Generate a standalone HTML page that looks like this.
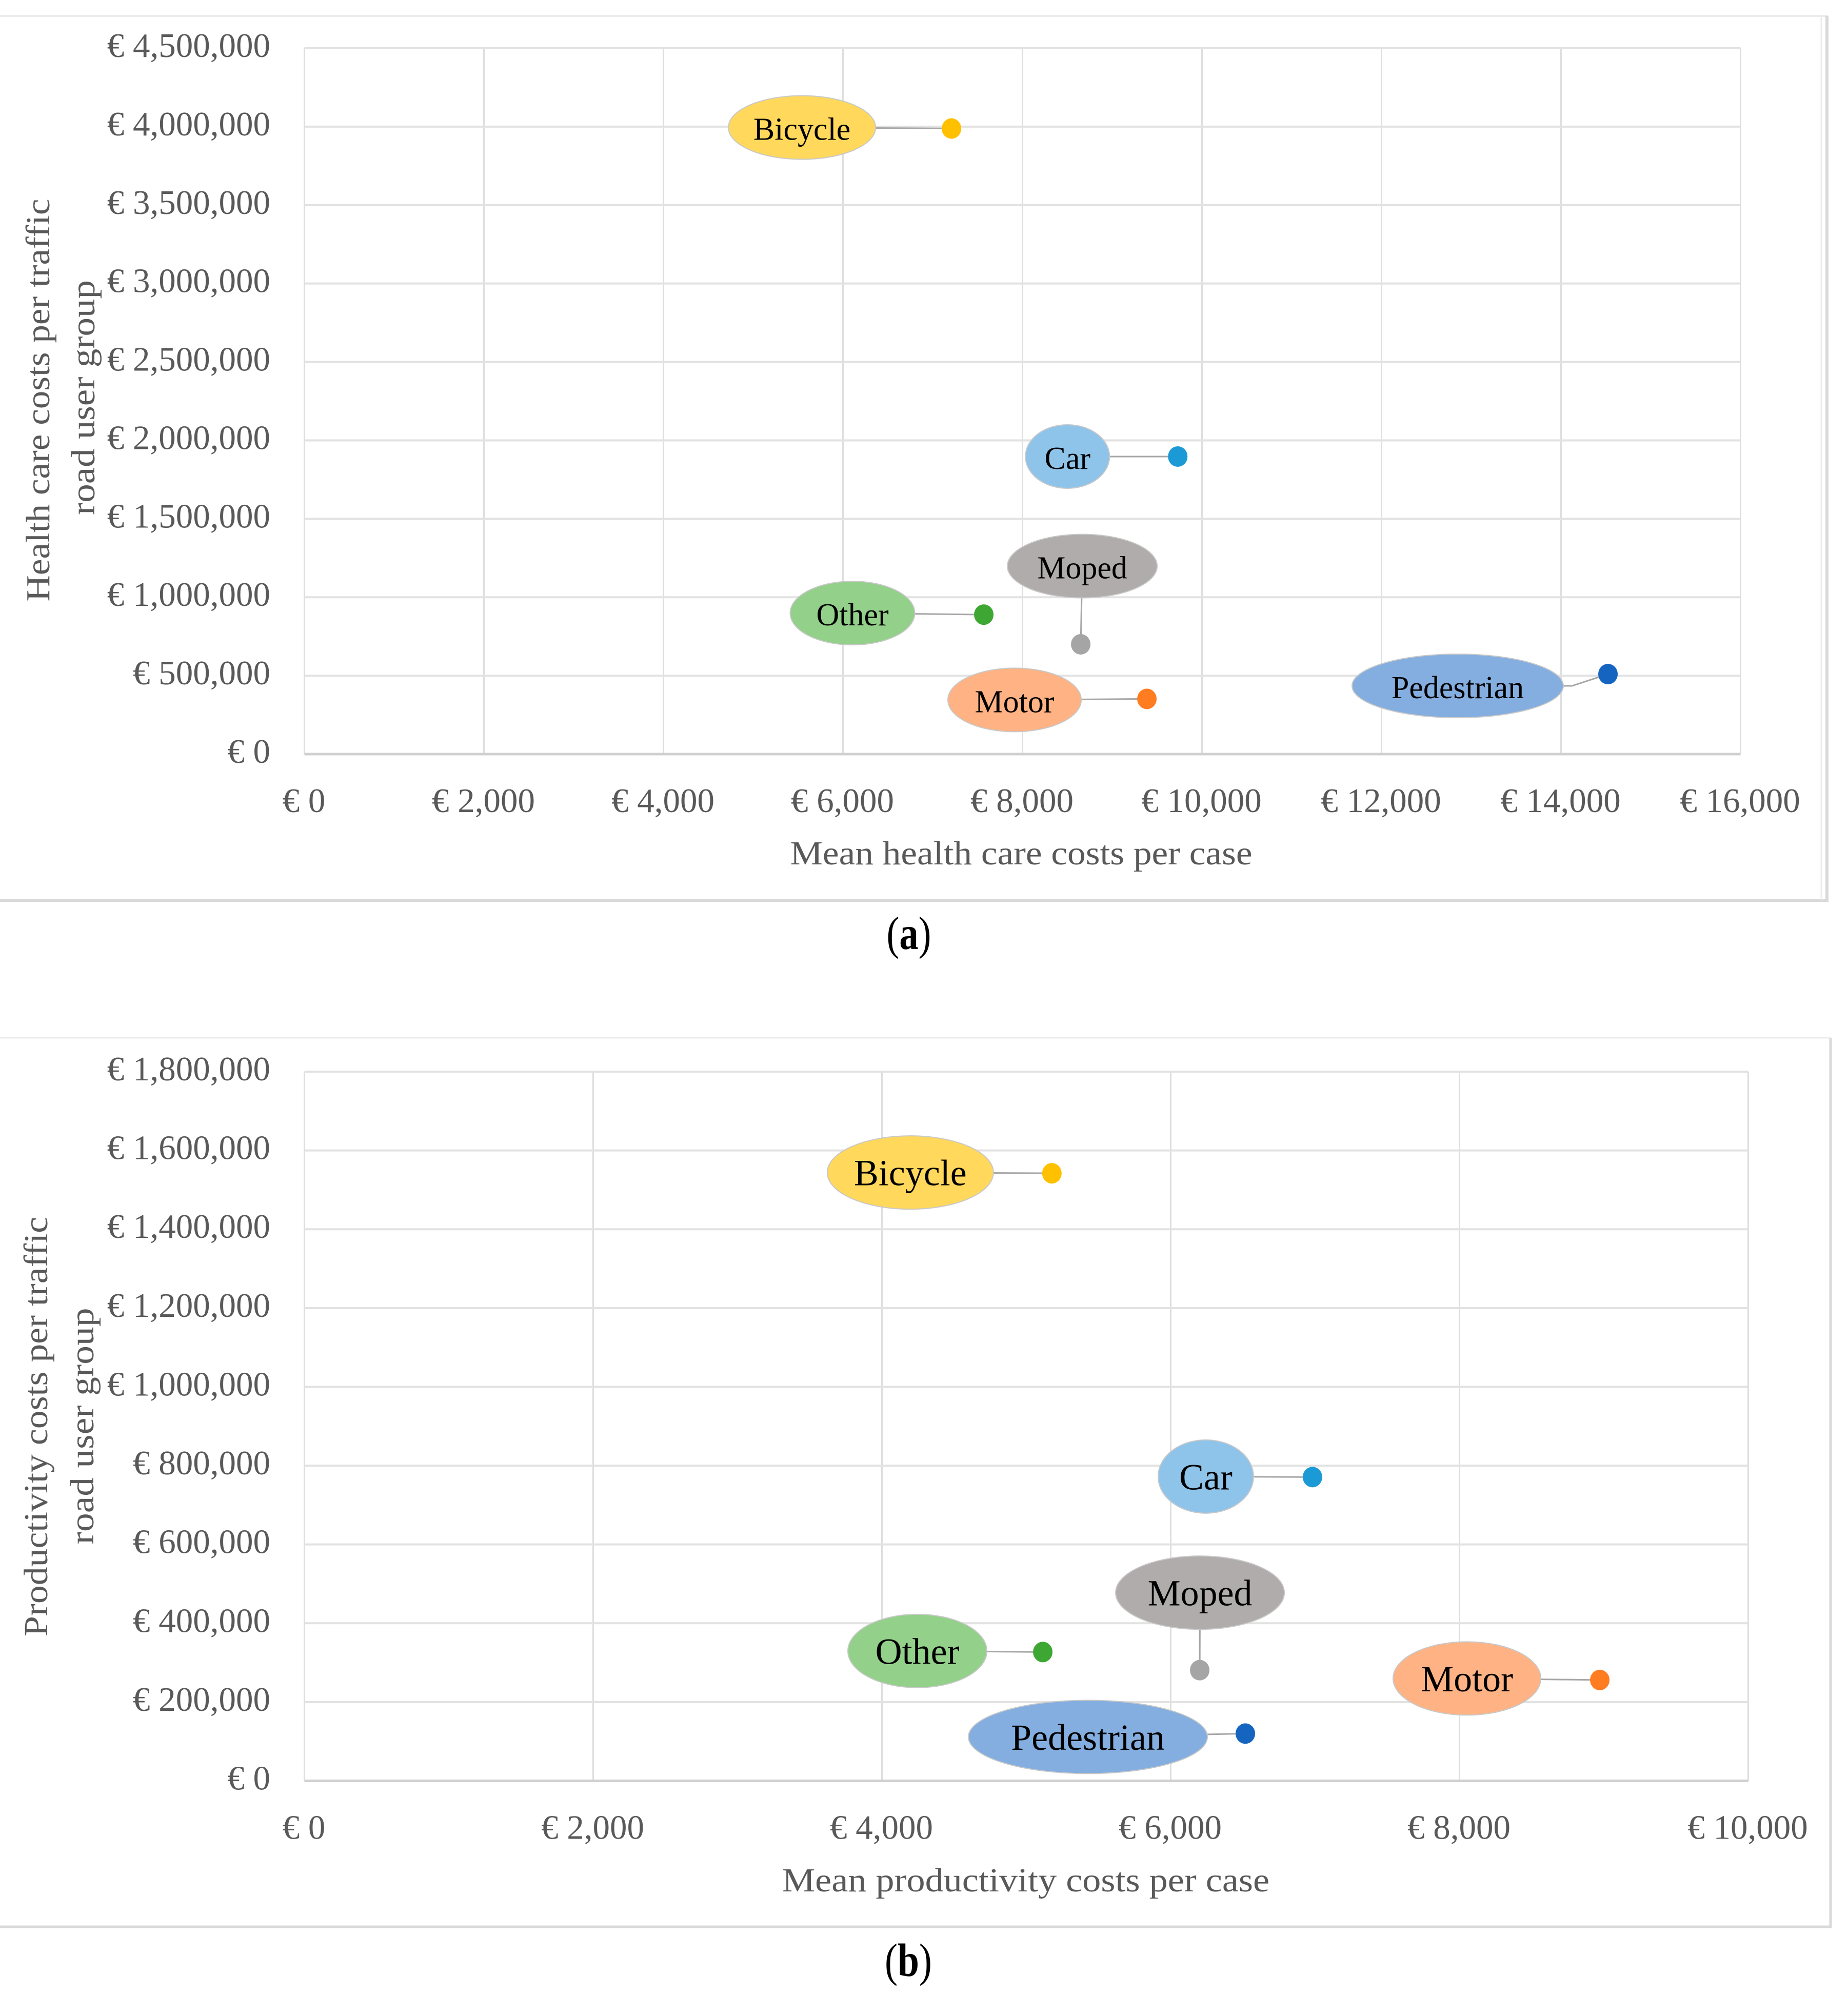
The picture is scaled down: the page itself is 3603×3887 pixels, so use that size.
<!DOCTYPE html>
<html lang="en">
<head>
<meta charset="utf-8">
<title>Costs per traffic road user group</title>
<style>
html,body{margin:0;padding:0;background:#fff;}
svg{display:block;}
text{font-family:"Liberation Serif","DejaVu Serif",serif;}
.tick{font-size:67px;fill:#595959;}
.title{font-size:66px;fill:#595959;}
.cap{font-size:91px;fill:#000;}
</style>
</head>
<body>
<svg id="figure" xmlns="http://www.w3.org/2000/svg" width="3603" height="3887" viewBox="0 0 3603 3887">
  <rect width="3603" height="3887" fill="#ffffff"/>

  <g id="frame-a" fill="none">
    <line x1="0" y1="31" x2="3564" y2="31" stroke="#ececec" stroke-width="4"/>
    <line x1="0" y1="1755" x2="3565" y2="1755" stroke="#d9d9d9" stroke-width="6"/>
    <line x1="3562" y1="31" x2="3562" y2="1755" stroke="#d9d9d9" stroke-width="6"/>
    <line x1="3551" y1="31" x2="3551" y2="1755" stroke="#ececec" stroke-width="3"/>
  </g>
  <g id="frame-b" fill="none">
    <line x1="0" y1="2023" x2="3570" y2="2023" stroke="#ececec" stroke-width="3"/>
    <line x1="0" y1="3756" x2="3571" y2="3756" stroke="#d9d9d9" stroke-width="5"/>
    <line x1="3569" y1="2023" x2="3569" y2="3756" stroke="#d9d9d9" stroke-width="5"/>
  </g>

  <g id="chart-a"></g>
  <g id="chart-b"></g>

  <text class="title" transform="translate(96,780) rotate(-90)" text-anchor="middle" textLength="785" lengthAdjust="spacingAndGlyphs">Health care costs per traffic</text>
  <text class="title" transform="translate(184,775) rotate(-90)" text-anchor="middle" textLength="458" lengthAdjust="spacingAndGlyphs">road user group</text>
  <text class="title" x="1991" y="1685" text-anchor="middle" textLength="901" lengthAdjust="spacingAndGlyphs">Mean health care costs per case</text>
  <text class="cap" x="1772" y="1850" text-anchor="middle" textLength="87" lengthAdjust="spacingAndGlyphs">(<tspan font-weight="bold">a</tspan>)</text>

  <text class="title" transform="translate(92,2781) rotate(-90)" text-anchor="middle" textLength="818" lengthAdjust="spacingAndGlyphs">Productivity costs per traffic</text>
  <text class="title" transform="translate(182,2780) rotate(-90)" text-anchor="middle" textLength="461" lengthAdjust="spacingAndGlyphs">road user group</text>
  <text class="title" x="2000" y="3687" text-anchor="middle" textLength="950" lengthAdjust="spacingAndGlyphs">Mean productivity costs per case</text>
  <text class="cap" x="1771" y="3852" text-anchor="middle" textLength="92" lengthAdjust="spacingAndGlyphs">(<tspan font-weight="bold">b</tspan>)</text>
</svg>

<script>
const categories = ['Bicycle', 'Car', 'Moped', 'Other', 'Motor', 'Pedestrian'];

const healthMeanCost = [7209, 9730, 8649, 7569, 9386, 14523];
const healthTotalCost = [3988000, 1897000, 700000, 889000, 352000, 510000];
const healthXTicks = [0, 2000, 4000, 6000, 8000, 10000, 12000, 14000, 16000];
const healthXTickLabels = ['€ 0', '€ 2,000', '€ 4,000', '€ 6,000', '€ 8,000', '€ 10,000', '€ 12,000', '€ 14,000', '€ 16,000'];
const healthYTicks = [0, 500000, 1000000, 1500000, 2000000, 2500000, 3000000, 3500000, 4000000, 4500000];
const healthYTickLabels = ['€ 0', '€ 500,000', '€ 1,000,000', '€ 1,500,000', '€ 2,000,000', '€ 2,500,000', '€ 3,000,000', '€ 3,500,000', '€ 4,000,000', '€ 4,500,000'];

const productivityMeanCost = [5177, 6982, 6201, 5114, 8972, 6517];
const productivityTotalCost = [1542000, 771000, 281000, 327000, 256000, 120000];
const productivityXTicks = [0, 2000, 4000, 6000, 8000, 10000];
const productivityXTickLabels = ['€ 0', '€ 2,000', '€ 4,000', '€ 6,000', '€ 8,000', '€ 10,000'];
const productivityYTicks = [0, 200000, 400000, 600000, 800000, 1000000, 1200000, 1400000, 1600000, 1800000];
const productivityYTickLabels = ['€ 0', '€ 200,000', '€ 400,000', '€ 600,000', '€ 800,000', '€ 1,000,000', '€ 1,200,000', '€ 1,400,000', '€ 1,600,000', '€ 1,800,000'];

const SVG_NS = 'http://www.w3.org/2000/svg';

function slug(s) {
  return s.toLowerCase();
}

function make(tag, attrs, parent, content) {
  const el = document.createElementNS(SVG_NS, tag);
  for (const k in attrs) el.setAttribute(k, attrs[k]);
  if (content !== undefined) el.textContent = content;
  parent.appendChild(el);
  return el;
}

const seriesStyle = {
  Bicycle: { bubble: '#ffd85c', dot: '#ffc000' },
  Car: { bubble: '#8fc4ea', dot: '#1b9ad6' },
  Moped: { bubble: '#b0acac', dot: '#a5a5a5' },
  Other: { bubble: '#93d089', dot: '#3ea734' },
  Motor: { bubble: '#ffb384', dot: '#ff7c20' },
  Pedestrian: { bubble: '#84aee0', dot: '#1565c0' }
};

function drawChart(cfg) {
  const root = document.getElementById(cfg.id);
  const xMax = cfg.xTicks[cfg.xTicks.length - 1];
  const yMax = cfg.yTicks[cfg.yTicks.length - 1];
  const xScale = v => cfg.left + (v / xMax) * (cfg.right - cfg.left);
  const yScale = v => cfg.bottom - (v / yMax) * (cfg.bottom - cfg.top);

  cfg.xTicks.forEach((t, i) => {
    const x = xScale(t);
    const grid = make('line', { x1: x, y1: cfg.top, x2: x, y2: cfg.bottom, stroke: '#dedede', 'stroke-width': 3 }, root);
    
    
    const label = make('text', { class: 'tick', x: x - 1, y: cfg.bottom + 113, 'text-anchor': 'middle' }, root, cfg.xTickLabels[i]);
    
    
  });

  cfg.yTicks.forEach((t, i) => {
    const y = yScale(t);
    const grid = make('line', { x1: cfg.left, y1: y, x2: cfg.right, y2: y, stroke: t === 0 ? '#d0d0d0' : '#e2e2e2', 'stroke-width': t === 0 ? 5 : 4 }, root);
    
    
    const label = make('text', { class: 'tick', x: 527, y: y + 17, 'text-anchor': 'end' }, root, cfg.yTickLabels[i]);
    
    
  });

  categories.forEach((name, i) => {
    const px = xScale(cfg.xValues[i]);
    const py = yScale(cfg.yValues[i]);
    const shape = cfg.bubbles[name];
    const cx = px + shape.dx;
    const cy = py + shape.dy;
    const style = seriesStyle[name];
    const elbowX = cx + shape.rx + (shape.elbow || 0);
    const route = cx + ',' + cy + ' ' + (shape.elbow ? elbowX + ',' + cy + ' ' : '') + px + ',' + py;

    const leader = make('polyline', { points: route, fill: 'none', stroke: '#a6a6a6', 'stroke-width': 3 }, root);
    
    

    const bubble = make('ellipse', { cx: cx, cy: cy, rx: shape.rx, ry: cfg.bubbleRy, fill: style.bubble, stroke: '#c8c8c8', 'stroke-width': 2 }, root);
    
    

    const text = make('text', { x: cx, y: cy + cfg.labelDy, 'text-anchor': 'middle', 'font-size': cfg.labelFont, fill: '#000000' }, root, name);
    
    

    const dot = make('ellipse', { cx: px, cy: py, rx: 19, ry: 20, fill: style.dot }, root);
    
    
  });
}

drawChart({
  id: 'chart-a',
  left: 593.5, right: 3393.5, top: 94, bottom: 1470,
  xTicks: healthXTicks, xTickLabels: healthXTickLabels,
  yTicks: healthYTicks, yTickLabels: healthYTickLabels,
  xValues: healthMeanCost, yValues: healthTotalCost,
  bubbleRy: 62, labelFont: 62, labelDy: 24,
  bubbles: {
    Bicycle: { dx: -291.5, dy: -2, rx: 143.5 },
    Car: { dx: -215, dy: 0, rx: 82 },
    Moped: { dx: 3, dy: -152.5, rx: 146 },
    Other: { dx: -256, dy: -3, rx: 121.5 },
    Motor: { dx: -258, dy: 2, rx: 130 },
    Pedestrian: { dx: -293, dy: 23, rx: 206, elbow: 17 }
  }
});

drawChart({
  id: 'chart-b',
  left: 593.5, right: 3408.5, top: 2089, bottom: 3471.5,
  xTicks: productivityXTicks, xTickLabels: productivityXTickLabels,
  yTicks: productivityYTicks, yTickLabels: productivityYTickLabels,
  xValues: productivityMeanCost, yValues: productivityTotalCost,
  bubbleRy: 71.5, labelFont: 72, labelDy: 25,
  bubbles: {
    Bicycle: { dx: -276, dy: -1.5, rx: 162 },
    Car: { dx: -208, dy: -1, rx: 93 },
    Moped: { dx: 0.5, dy: -151, rx: 164.5 },
    Other: { dx: -244.5, dy: -2, rx: 135.5 },
    Motor: { dx: -259, dy: -3, rx: 144 },
    Pedestrian: { dx: -307, dy: 6.5, rx: 233 }
  }
});
</script>
</body>
</html>
